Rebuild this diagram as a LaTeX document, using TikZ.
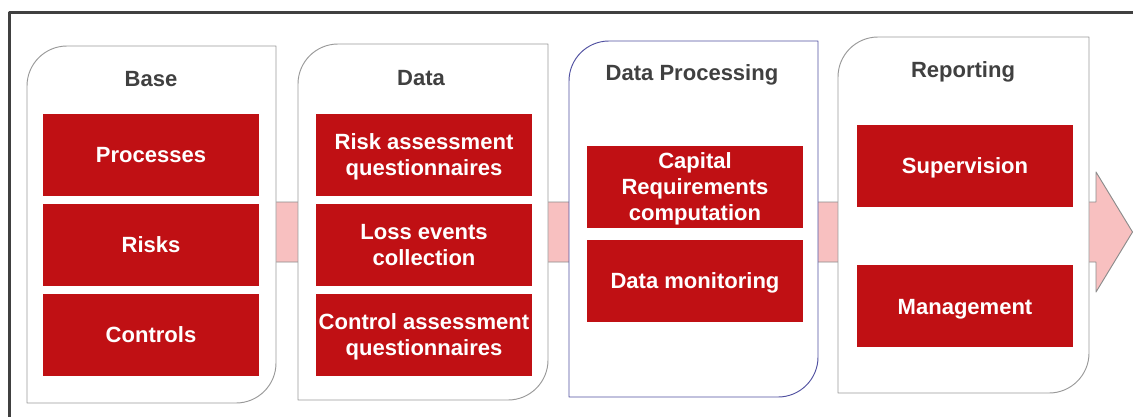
\documentclass[tikz,border=0pt]{standalone}
\usepackage{fontspec}
\setmainfont{Liberation Sans}
\usetikzlibrary{positioning}

\definecolor{boxred}{RGB}{192,16,20}
\definecolor{titlegray}{RGB}{64,64,64}
\definecolor{arrowpink}{RGB}{248,192,192}
\definecolor{panelblue}{RGB}{80,80,160}

\begin{document}
\begin{tikzpicture}[
            x = 0.03cm, y = -0.03cm, % one unit per pixel, y pointing down
            node distance = 0.225cm, % gap between stacked boxes
            line join = round
        ]

        \tikzstyle{panel}=[
            draw = gray!80,
            fill = white,
            line width = 0.8pt
        ]
        \tikzstyle{title}=[
            text = titlegray,
            text depth = 0pt, % centre on the capitals
            font = \bfseries\fontsize{18.8}{22}\selectfont
        ]
        \tikzstyle{redbox}=[
            fill = boxred,
            text = white,
            align = center,
            text depth = 0pt,
            inner sep = 0pt,
            minimum width = 6.48cm,
            minimum height = 2.46cm,
            font = \bfseries\fontsize{18.8}{22.2}\selectfont
        ]

        \useasboundingbox (0,0) rectangle (1133,416);
        \fill[white] (0,0) rectangle (1133,416);

        \begin{scope}
            \clip (0,0) rectangle (1133,416);
            % outer frame
            \draw[titlegray, line width = 2pt] (9.5,430) -- (9.5,12.5) -- (1150,12.5);
            % flow arrow behind the panels
            \draw[fill = arrowpink, draw = gray!90, line width = 0.8pt]
                (60,202) -- (1096,202) -- (1096,172) -- (1132.5,232)
                -- (1096,292) -- (1096,262) -- (60,262) -- cycle;
        \end{scope}

        % panels
        \draw[panel] (27,86) arc[start angle=180, end angle=270, radius=40] -- (276,46)
            -- (276,363) arc[start angle=0, end angle=90, radius=40] -- (27,403) -- cycle;
        \draw[panel] (298,84) arc[start angle=180, end angle=270, radius=40] -- (548,44)
            -- (548,360) arc[start angle=0, end angle=90, radius=40] -- (298,400) -- cycle;
        \draw[panel, draw = panelblue] (569,81) arc[start angle=180, end angle=270, radius=40] -- (818,41)
            -- (818,357) arc[start angle=0, end angle=90, radius=40] -- (569,397) -- cycle;
        \draw[panel] (838,77) arc[start angle=180, end angle=270, radius=40] -- (1089,37)
            -- (1089,353) arc[start angle=0, end angle=90, radius=40] -- (838,393) -- cycle;

        \node[title] (base) at (151,79) {Base};
        \node[title] (data) at (421,78) {Data};
        \node[title] (processing) at (692,73) {Data Processing};
        \node[title] (reporting) at (963,70) {Reporting};

        \node[redbox] (processes) at (151,155) {Processes};
        \node[redbox] (risks) [below=of processes] {Risks};
        \node[redbox] (controls) [below=of risks] {Controls};

        \node[redbox] (riskq) at (424,155) {Risk assessment\\questionnaires};
        \node[redbox] (lossevents) [below=of riskq] {Loss events\\collection};
        \node[redbox] (controlq) [below=of lossevents] {Control assessment\\questionnaires};

        \node[redbox] (capital) at (695,186.5) {Capital\\Requirements\\computation};
        \node[redbox] (monitoring) [below=0.36cm of capital] {Data monitoring};

        \node[redbox] (supervision) at (965,166) {Supervision};
        \node[redbox] (management) [below=1.74cm of supervision] {Management};

    \end{tikzpicture}
\end{document}
